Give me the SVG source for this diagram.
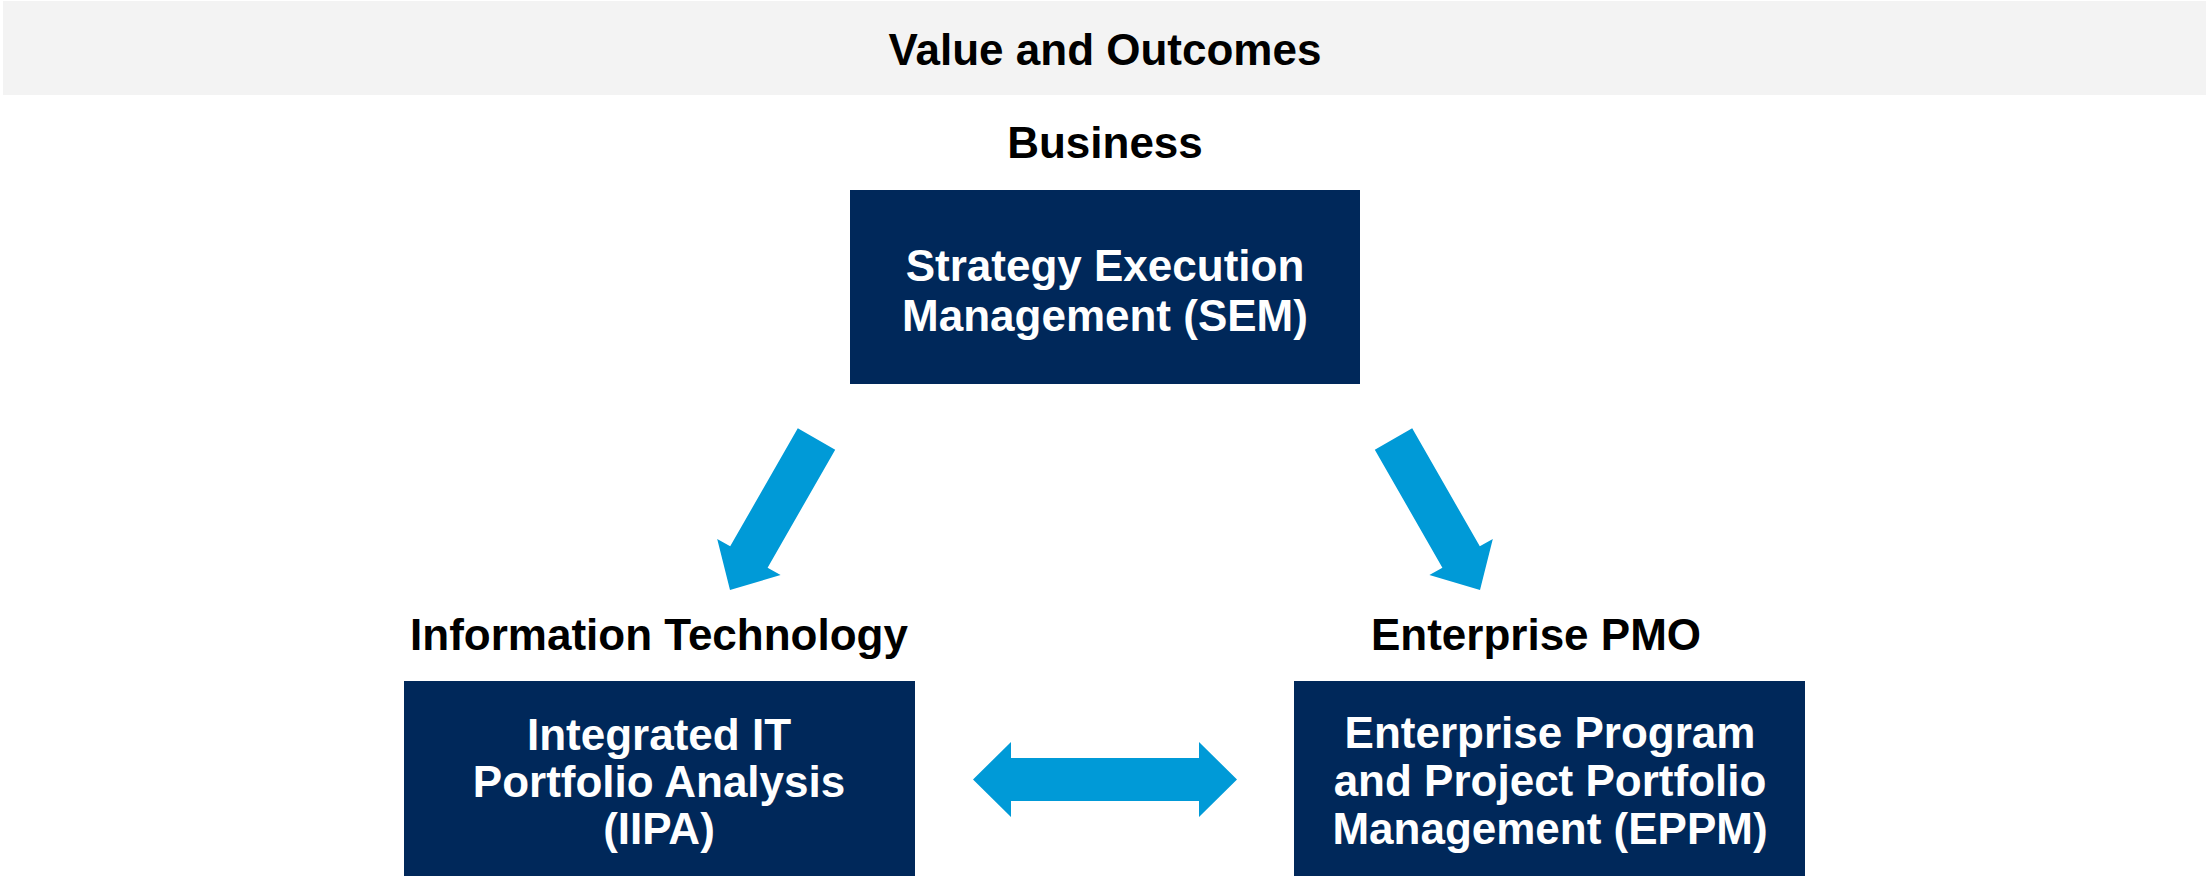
<svg xmlns="http://www.w3.org/2000/svg" width="2206" height="876" viewBox="0 0 2206 876">
  <style>
    .label { font-family: "Liberation Sans", Arial, sans-serif; font-weight: bold; font-size: 44px; fill: #000; text-anchor: middle; }
    .boxtext { font-family: "Liberation Sans", Arial, sans-serif; font-weight: bold; font-size: 44px; fill: #fff; text-anchor: middle; }
    .box { fill: #00285a; }
    .flow { fill: #009ad7; }
  </style>

  <!-- header band -->
  <g id="header">
    <rect x="3" y="1" width="2203" height="94" fill="#f3f3f3"/>
    <text class="label" x="1105" y="65">Value and Outcomes</text>
  </g>

  <!-- top node -->
  <g id="sem">
    <text class="label" x="1105" y="158">Business</text>
    <rect class="box" x="850" y="190" width="510" height="194"/>
    <text class="boxtext" x="1105" y="281">Strategy Execution</text>
    <text class="boxtext" x="1105" y="331">Management (SEM)</text>
  </g>

  <!-- bottom-left node -->
  <g id="iipa">
    <text class="label" x="659" y="650">Information Technology</text>
    <rect class="box" x="404" y="681" width="511" height="195"/>
    <text class="boxtext" x="659" y="750">Integrated IT</text>
    <text class="boxtext" x="659" y="797">Portfolio Analysis</text>
    <text class="boxtext" x="659" y="844">(IIPA)</text>
  </g>

  <!-- bottom-right node -->
  <g id="eppm">
    <text class="label" x="1536" y="650">Enterprise PMO</text>
    <rect class="box" x="1294" y="681" width="511" height="195"/>
    <text class="boxtext" x="1550" y="748">Enterprise Program</text>
    <text class="boxtext" x="1550" y="796">and Project Portfolio</text>
    <text class="boxtext" x="1550" y="844">Management (EPPM)</text>
  </g>

  <!-- connectors -->
  <g id="connectors">
    <polygon class="flow" points="797.8,428.3 835.2,449.7 767.6,567.7 780.6,575.1 730,590 717.2,538.9 730.2,546.3"/>
    <polygon class="flow" points="1412.2,428.3 1374.8,449.7 1442.4,567.7 1429.4,575.1 1480,590 1492.8,538.9 1479.8,546.3"/>
    <polygon class="flow" points="973,779.5 1011,742 1011,758 1199,758 1199,742 1237,779.5 1199,817 1199,801 1011,801 1011,817"/>
  </g>
</svg>
